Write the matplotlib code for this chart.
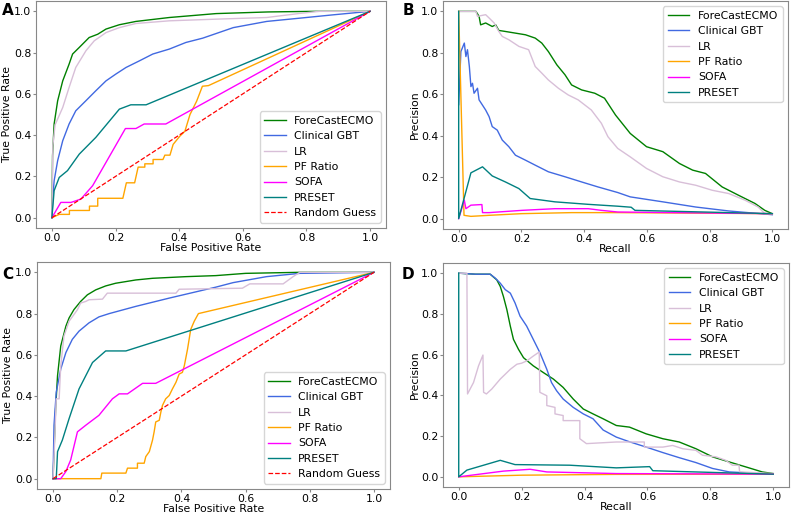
import matplotlib
matplotlib.use("Agg")
import matplotlib.pyplot as plt

plt.rcParams["font.size"] = 7.8

models = ["ForeCastECMO", "Clinical GBT", "LR", "PF Ratio", "SOFA", "PRESET"]
colors = ["green", "royalblue", "thistle", "orange", "magenta", "teal"]

# panel A, ROC
a_ecmo_x = [0, 0.002, 0.007, 0.018, 0.034, 0.054, 0.065, 0.086, 0.117, 0.144, 0.17, 0.212, 0.264, 0.369, 0.516, 0.68, 0.83, 1.0]
a_ecmo_y = [0, 0.3, 0.454, 0.566, 0.663, 0.744, 0.793, 0.825, 0.873, 0.889, 0.914, 0.935, 0.951, 0.97, 0.989, 0.997, 1.0, 1.0]
a_gbt_x = [0, 0.003, 0.007, 0.018, 0.034, 0.054, 0.075, 0.107, 0.138, 0.17, 0.201, 0.233, 0.275, 0.317, 0.369, 0.421, 0.474, 0.57, 0.675, 0.78, 0.884, 1.0]
a_gbt_y = [0, 0.1, 0.179, 0.276, 0.373, 0.454, 0.518, 0.567, 0.615, 0.663, 0.696, 0.728, 0.76, 0.793, 0.817, 0.849, 0.87, 0.921, 0.951, 0.967, 0.983, 1.0]
a_lr_x = [0, 0.003, 0.01, 0.034, 0.054, 0.075, 0.107, 0.133, 0.17, 0.212, 0.264, 0.369, 0.516, 0.675, 0.78, 0.84, 1.0]
a_lr_y = [0, 0.35, 0.45, 0.534, 0.631, 0.728, 0.809, 0.857, 0.897, 0.921, 0.941, 0.954, 0.962, 0.97, 0.99, 1.0, 1.0]
a_pf_x = [0, 0.023, 0.055, 0.055, 0.118, 0.118, 0.144, 0.144, 0.223, 0.234, 0.26, 0.271, 0.292, 0.292, 0.318, 0.318,
          0.349, 0.355, 0.371, 0.381, 0.402, 0.418, 0.434, 0.455, 0.473, 0.492, 1.0]
a_pf_y = [0, 0.016, 0.016, 0.035, 0.035, 0.056, 0.056, 0.094, 0.094, 0.169, 0.169, 0.245, 0.245, 0.261, 0.261, 0.282,
          0.282, 0.303, 0.303, 0.355, 0.395, 0.419, 0.5, 0.565, 0.637, 0.64, 1.0]
a_sofa_x = [0, 0.028, 0.06, 0.091, 0.128, 0.231, 0.264, 0.29, 0.358, 1.0]
a_sofa_y = [0, 0.074, 0.074, 0.09, 0.155, 0.432, 0.432, 0.454, 0.454, 1.0]
a_preset_x = [0, 0.007, 0.023, 0.049, 0.086, 0.138, 0.212, 0.248, 0.296, 1.0]
a_preset_y = [0, 0.131, 0.195, 0.228, 0.308, 0.389, 0.526, 0.547, 0.547, 1.0]

# panel B, precision-recall
b_ecmo_x = [0, 0.055, 0.065, 0.07, 0.086, 0.107, 0.118, 0.128, 0.149, 0.181, 0.213, 0.244, 0.265, 0.286, 0.313, 0.339,
            0.36, 0.392, 0.434, 0.465, 0.5, 0.547, 0.599, 0.651, 0.704, 0.746, 0.787, 0.84, 0.892, 0.945, 0.976, 1.0]
b_ecmo_y = [1.0, 1.0, 0.976, 0.935, 0.944, 0.927, 0.935, 0.908, 0.903, 0.895, 0.887, 0.871, 0.847, 0.806, 0.742, 0.694,
            0.645, 0.621, 0.605, 0.581, 0.5, 0.411, 0.347, 0.323, 0.266, 0.234, 0.218, 0.153, 0.113, 0.073, 0.04, 0.024]
b_gbt_x = [0, 0.007, 0.018, 0.023, 0.028, 0.034, 0.039, 0.044, 0.049, 0.06, 0.065, 0.086, 0.097, 0.107, 0.123, 0.139,
           0.16, 0.181, 0.213, 0.244, 0.286, 0.339, 0.392, 0.444, 0.507, 0.547, 0.651, 0.756, 0.861, 1.0]
b_gbt_y = [0.55, 0.806, 0.847, 0.782, 0.815, 0.734, 0.637, 0.653, 0.605, 0.629, 0.573, 0.524, 0.492, 0.444, 0.427, 0.379,
           0.347, 0.306, 0.282, 0.258, 0.226, 0.202, 0.177, 0.153, 0.126, 0.105, 0.081, 0.056, 0.037, 0.019]
b_lr_x = [0, 0.055, 0.06, 0.086, 0.097, 0.113, 0.128, 0.139, 0.16, 0.192, 0.223, 0.244, 0.265, 0.286, 0.318, 0.349,
          0.381, 0.423, 0.455, 0.476, 0.507, 0.547, 0.599, 0.651, 0.704, 0.756, 0.808, 0.861, 0.913, 0.955, 0.976, 1.0]
b_lr_y = [1.0, 1.0, 0.976, 0.984, 0.968, 0.944, 0.903, 0.879, 0.863, 0.831, 0.815, 0.734, 0.702, 0.669, 0.629, 0.597,
          0.573, 0.524, 0.46, 0.395, 0.339, 0.298, 0.242, 0.202, 0.177, 0.161, 0.137, 0.121, 0.089, 0.056, 0.024, 0.021]
b_pf_x = [0, 0.017, 0.039, 0.097, 0.2, 0.36, 0.507, 1.0]
b_pf_y = [1.0, 0.016, 0.011, 0.016, 0.024, 0.029, 0.029, 0.024]
b_sofa_x = [0, 0.018, 0.023, 0.039, 0.074, 0.076, 0.097, 0.202, 0.307, 0.413, 0.455, 0.507, 1.0]
b_sofa_y = [0, 0.089, 0.048, 0.065, 0.068, 0.029, 0.029, 0.04, 0.048, 0.048, 0.04, 0.032, 0.024]
b_preset_x = [0, 0, 0.039, 0.076, 0.107, 0.149, 0.192, 0.228, 0.307, 0.413, 0.507, 0.55, 0.562, 1.0]
b_preset_y = [1.0, 0, 0.221, 0.25, 0.206, 0.177, 0.145, 0.097, 0.081, 0.069, 0.06, 0.055, 0.04, 0.024]

# panel C, ROC
c_ecmo_x = [0, 0.008, 0.014, 0.024, 0.04, 0.05, 0.065, 0.086, 0.107, 0.133, 0.164, 0.195, 0.258, 0.31, 0.414, 0.507, 0.6, 0.769, 1.0]
c_ecmo_y = [0, 0.339, 0.499, 0.643, 0.739, 0.779, 0.819, 0.859, 0.891, 0.915, 0.934, 0.947, 0.963, 0.971, 0.979, 0.984, 0.995, 1.0, 1.0]
c_gbt_x = [0, 0.003, 0.01, 0.024, 0.04, 0.06, 0.081, 0.112, 0.143, 0.175, 0.258, 0.362, 0.507, 0.561, 0.665, 0.769, 1.0]
c_gbt_y = [0, 0.259, 0.419, 0.531, 0.611, 0.675, 0.715, 0.755, 0.784, 0.8, 0.835, 0.875, 0.928, 0.95, 0.979, 0.995, 1.0]
c_lr_x = [0, 0.003, 0.01, 0.019, 0.024, 0.034, 0.05, 0.065, 0.076, 0.086, 0.102, 0.112, 0.154, 0.169, 0.383, 0.393,
          0.59, 0.613, 0.717, 0.748, 0.769, 1.0]
c_lr_y = [0, 0.1, 0.387, 0.387, 0.547, 0.691, 0.763, 0.795, 0.819, 0.851, 0.859, 0.867, 0.87, 0.899, 0.899, 0.918,
          0.923, 0.944, 0.944, 0.979, 1.0, 1.0]
c_pf_x = [0, 0.149, 0.152, 0.227, 0.232, 0.263, 0.263, 0.284, 0.289, 0.3, 0.31, 0.315, 0.32, 0.331, 0.336, 0.341,
          0.351, 0.362, 0.372, 0.383, 0.393, 0.403, 0.409, 0.419, 0.429, 0.44, 0.453, 1.0]
c_pf_y = [0, 0, 0.027, 0.027, 0.051, 0.051, 0.075, 0.075, 0.107, 0.131, 0.187, 0.227, 0.275, 0.283, 0.323, 0.355,
          0.387, 0.403, 0.435, 0.467, 0.507, 0.515, 0.547, 0.627, 0.723, 0.763, 0.8, 1.0]
c_sofa_x = [0, 0.024, 0.04, 0.055, 0.076, 0.102, 0.143, 0.185, 0.206, 0.232, 0.279, 0.32, 1.0]
c_sofa_y = [0, 0, 0.035, 0.091, 0.227, 0.259, 0.307, 0.387, 0.411, 0.411, 0.462, 0.462, 1.0]
c_preset_x = [0, 0.01, 0.014, 0.029, 0.05, 0.081, 0.123, 0.164, 0.227, 1.0]
c_preset_y = [0, 0, 0.131, 0.187, 0.291, 0.435, 0.563, 0.619, 0.619, 1.0]

# panel D, precision-recall
d_ecmo_x = [0, 0.053, 0.1, 0.121, 0.132, 0.142, 0.153, 0.164, 0.174, 0.19, 0.206, 0.237, 0.269, 0.301, 0.332, 0.364,
            0.396, 0.427, 0.459, 0.501, 0.543, 0.596, 0.649, 0.701, 0.754, 0.807, 0.86, 0.912, 0.965, 1.0]
d_ecmo_y = [1.0, 0.995, 0.995, 0.967, 0.935, 0.886, 0.821, 0.74, 0.675, 0.626, 0.585, 0.545, 0.512, 0.48, 0.439, 0.382,
            0.333, 0.309, 0.285, 0.252, 0.244, 0.211, 0.187, 0.171, 0.138, 0.098, 0.073, 0.049, 0.024, 0.016]
d_gbt_x = [0, 0.053, 0.1, 0.116, 0.132, 0.148, 0.164, 0.179, 0.195, 0.216, 0.237, 0.258, 0.28, 0.295, 0.311, 0.332,
           0.364, 0.396, 0.427, 0.459, 0.501, 0.543, 0.596, 0.649, 0.701, 0.754, 0.807, 0.86, 1.0]
d_gbt_y = [1.0, 0.995, 0.995, 0.976, 0.951, 0.919, 0.902, 0.854, 0.789, 0.74, 0.675, 0.61, 0.528, 0.463, 0.423, 0.382,
           0.341, 0.309, 0.285, 0.23, 0.195, 0.172, 0.146, 0.119, 0.094, 0.07, 0.041, 0.024, 0.013]
d_lr_x = [0, 0.026, 0.028, 0.047, 0.063, 0.077, 0.079, 0.088, 0.105, 0.132, 0.164, 0.185, 0.2, 0.216, 0.237, 0.256,
          0.258, 0.28, 0.28, 0.306, 0.306, 0.332, 0.332, 0.385, 0.385, 0.406, 0.501, 0.59, 0.59, 0.649, 0.68, 0.712,
          0.754, 0.775, 0.818, 0.849, 0.87, 0.891, 0.893, 1.0]
d_lr_y = [1.0, 1.0, 0.407, 0.463, 0.545, 0.598, 0.415, 0.407, 0.431, 0.48, 0.528, 0.553, 0.558, 0.569, 0.593, 0.613,
          0.415, 0.398, 0.35, 0.341, 0.309, 0.301, 0.276, 0.276, 0.187, 0.163, 0.171, 0.171, 0.146, 0.146, 0.154, 0.138,
          0.13, 0.106, 0.098, 0.081, 0.057, 0.057, 0.024, 0.016]
d_pf_x = [0, 0.2, 0.5, 1.0]
d_pf_y = [0, 0.008, 0.012, 0.013]
d_sofa_x = [0, 0.142, 0.227, 0.28, 0.501, 1.0]
d_sofa_y = [0, 0.028, 0.037, 0.024, 0.016, 0.013]
d_preset_x = [0, 0, 0.026, 0.132, 0.179, 0.353, 0.501, 0.607, 0.617, 1.0]
d_preset_y = [1.0, 0, 0.033, 0.081, 0.06, 0.057, 0.044, 0.05, 0.03, 0.013]

panels = {
    "A": [(a_ecmo_x, a_ecmo_y), (a_gbt_x, a_gbt_y), (a_lr_x, a_lr_y), (a_pf_x, a_pf_y), (a_sofa_x, a_sofa_y), (a_preset_x, a_preset_y)],
    "B": [(b_ecmo_x, b_ecmo_y), (b_gbt_x, b_gbt_y), (b_lr_x, b_lr_y), (b_pf_x, b_pf_y), (b_sofa_x, b_sofa_y), (b_preset_x, b_preset_y)],
    "C": [(c_ecmo_x, c_ecmo_y), (c_gbt_x, c_gbt_y), (c_lr_x, c_lr_y), (c_pf_x, c_pf_y), (c_sofa_x, c_sofa_y), (c_preset_x, c_preset_y)],
    "D": [(d_ecmo_x, d_ecmo_y), (d_gbt_x, d_gbt_y), (d_lr_x, d_lr_y), (d_pf_x, d_pf_y), (d_sofa_x, d_sofa_y), (d_preset_x, d_preset_y)],
}

W, H = 794, 515
fig = plt.figure(figsize=(W / 100, H / 100), dpi=100)

# axes boxes in pixels: left, top, right, bottom
boxes = {
    "A": (36, 1, 386, 228),
    "B": (443, 1, 788, 229),
    "C": (37, 262, 390, 489),
    "D": (443, 263, 789, 487),
}
letter_pos = {"A": (2, 3), "B": (403, 3), "C": (2, 267), "D": (402, 267)}

for key, curves in panels.items():
    l, t, r, b = boxes[key]
    ax = fig.add_axes([l / W, 1 - b / H, (r - l) / W, (b - t) / H])
    for (x, y), name, c in zip(curves, models, colors):
        ax.plot(x, y, color=c, lw=1.0, label=name)
    roc = key in ("A", "C")
    if roc:
        ax.plot([0, 1], [0, 1], "r--", lw=0.9, label="Random Guess")
        ax.set_xlabel("False Positive Rate", labelpad=0)
        ax.set_ylabel("True Positive Rate", labelpad=1)
        ax.legend(loc="lower right", fontsize=7.8)
    else:
        ax.set_xlabel("Recall", labelpad=0)
        ax.set_ylabel("Precision", labelpad=1)
        ax.legend(loc="upper right", fontsize=7.8)
    ax.set_xlim(-0.05, 1.05)
    ax.set_ylim(-0.05, 1.05)
    ax.set_xticks([0, 0.2, 0.4, 0.6, 0.8, 1.0])
    ax.set_yticks([0, 0.2, 0.4, 0.6, 0.8, 1.0])
    for s in ax.spines.values():
        s.set_color("#888888")
    ax.tick_params(colors="#888888", labelcolor="black", length=2.5, pad=1)
    lx, ly = letter_pos[key]
    fig.text(lx / W, 1 - ly / H, key, fontsize=11, fontweight="bold", va="top", ha="left")

fig.savefig("out.png", dpi=100)
